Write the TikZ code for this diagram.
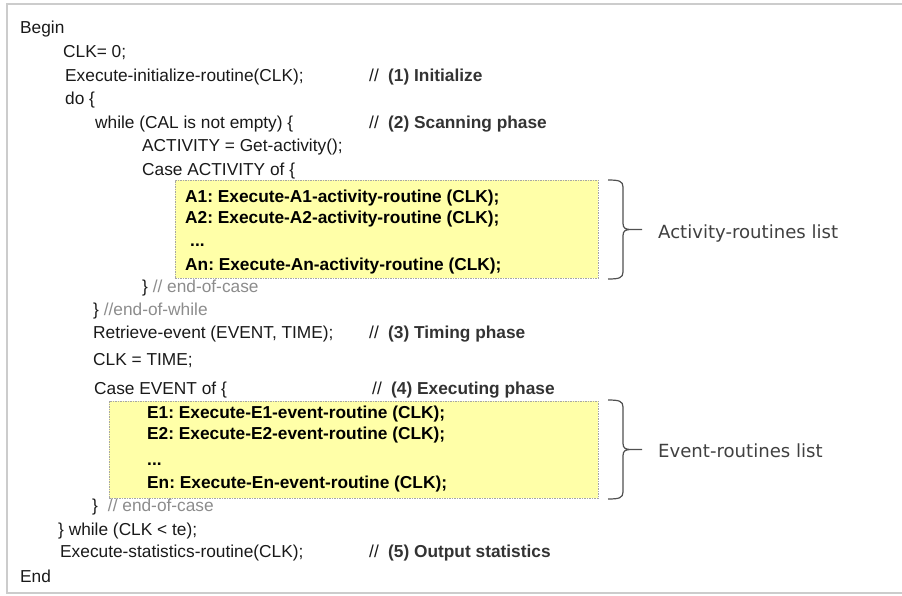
\documentclass[tikz,border=0pt]{standalone}
\usepackage{fontspec}
\setmainfont{Liberation Sans}
\newfontfamily\notefont{DejaVu Sans}
\usepackage{xcolor}
\usepackage{tikz}
\usetikzlibrary{positioning}
\frenchspacing

\definecolor{listyellow}{HTML}{FFFFA8}
\definecolor{framegray}{HTML}{CCCCCC}
\definecolor{remgray}{HTML}{8C8C8C}
\definecolor{phasegray}{HTML}{333333}
\definecolor{bracegray}{HTML}{505050}

\newcommand{\codefont}{\fontsize{17.3}{20}\selectfont}
% right-hand brace beside a routine list, #1 = top, #2 = bottom
\newcommand{\listbrace}[2]{%
  \pgfmathsetmacro{\ymid}{(#1+#2)/2}
  \draw[bracegray,line width=1.2pt] (608,#1) .. controls (619,#1) and (623,{#1+1}) .. (623,{#1+7})
     -- (623,{\ymid-6}) .. controls (623,{\ymid-1}) and (626,\ymid) .. (631,\ymid) -- (642,\ymid)
     (631,\ymid) .. controls (626,\ymid) and (623,{\ymid+1}) .. (623,{\ymid+6})
     -- (623,{#2-7}) .. controls (623,{#2-1}) and (619,#2) .. (608,#2);
}

\begin{document}
\begin{tikzpicture}[x=1pt,y=-1pt,
  code/.style={inner sep=0pt,anchor=base west,font=\codefont,text=black!90},
  rem/.style={code,text=remgray},
  phase/.style={code,font=\codefont\bfseries,text=phasegray},
  entry/.style={code,font=\codefont\bfseries,text=black},
  listbox/.style={draw=gray!70,dash pattern=on 1.5pt off 1pt,line width=0.6pt,
    fill=listyellow,anchor=north west,inner sep=0pt},
  note/.style={inner sep=0pt,anchor=base west,font=\notefont\fontsize{18.1}{22}\selectfont,text=black!75}]
\useasboundingbox (0,0) rectangle (902,595);
\draw[framegray,line width=1.2pt] (902,4) -- (7,4) -- (7,593) -- (902,593);

% routine lists
\node[listbox,minimum width=423pt,minimum height=98pt] (actbox) at (175,180) {};
\node[listbox,minimum width=489pt,minimum height=97pt] (evtbox) at (109,401) {};

\node[code] (begin) at (20,33) {Begin};
\node[code] (clk) at (63,57) {CLK= 0;};
\node[code] (init) at (65,81) {Execute-initialize-routine(CLK);};
\node[code] (s1) at (369,81) {//};
\node[phase] (c1) at (388,81) {(1) Initialize};
\node[code] (do) at (65,104) {do \{};
\node[code] (while) at (95,128) {while (CAL is not empty) \{};
\node[code] (s2) at (369,128) {//};
\node[phase] (c2) at (388,128) {(2) Scanning phase};
\node[code] (act) at (142,151) {ACTIVITY = Get-activity();};
\node[code] (caseact) at (142,175) {Case ACTIVITY of \{};

\node[entry] (a1) at (185,202) {A1: Execute-A1-activity-routine (CLK);};
\node[entry] (a2) at (185,223) {A2: Execute-A2-activity-routine (CLK);};
\node[entry] (adots) at (190,246) {...};
\node[entry] (an) at (185,270) {An: Execute-An-activity-routine (CLK);};

\node[code] (endcase) at (142,292) {\} {\color{remgray}// end-of-case}};
\node[code] (endwhile) at (93,315) {\} {\color{remgray}//end-of-while}};
\node[code] (retrieve) at (93,338) {Retrieve-event (EVENT, TIME);};
\node[code] (s3) at (369,338) {//};
\node[phase] (c3) at (388,338) {(3) Timing phase};
\node[code] (clktime) at (93,365) {CLK = TIME;};
\node[code] (caseevt) at (94,394) {Case EVENT of \{};
\node[code] (s4) at (372,394) {//};
\node[phase] (c4) at (391,394) {(4) Executing phase};

\node[entry] (e1) at (147,418) {E1: Execute-E1-event-routine (CLK);};
\node[entry] (e2) at (147,439) {E2: Execute-E2-event-routine (CLK);};
\node[entry] (edots) at (147,465) {...};
\node[entry] (en) at (147,488) {En: Execute-En-event-routine (CLK);};

\node[code] (endcase2) at (92,511) {\}\hspace{10pt}{\color{remgray}// end-of-case}};
\node[code] (dowhile) at (58,535) {\} while (CLK < te);};
\node[code] (stats) at (60,557) {Execute-statistics-routine(CLK);};
\node[code] (s5) at (369,557) {//};
\node[phase] (c5) at (388,557) {(5) Output statistics};
\node[code] (stop) at (20,582) {End};

% braces and list names
\listbrace{180}{279}
\listbrace{400}{499}
\node[note] (actnote) at (658,238) {Activity-routines list};
\node[note] (evtnote) at (658,457) {Event-routines list};
\end{tikzpicture}
\end{document}
